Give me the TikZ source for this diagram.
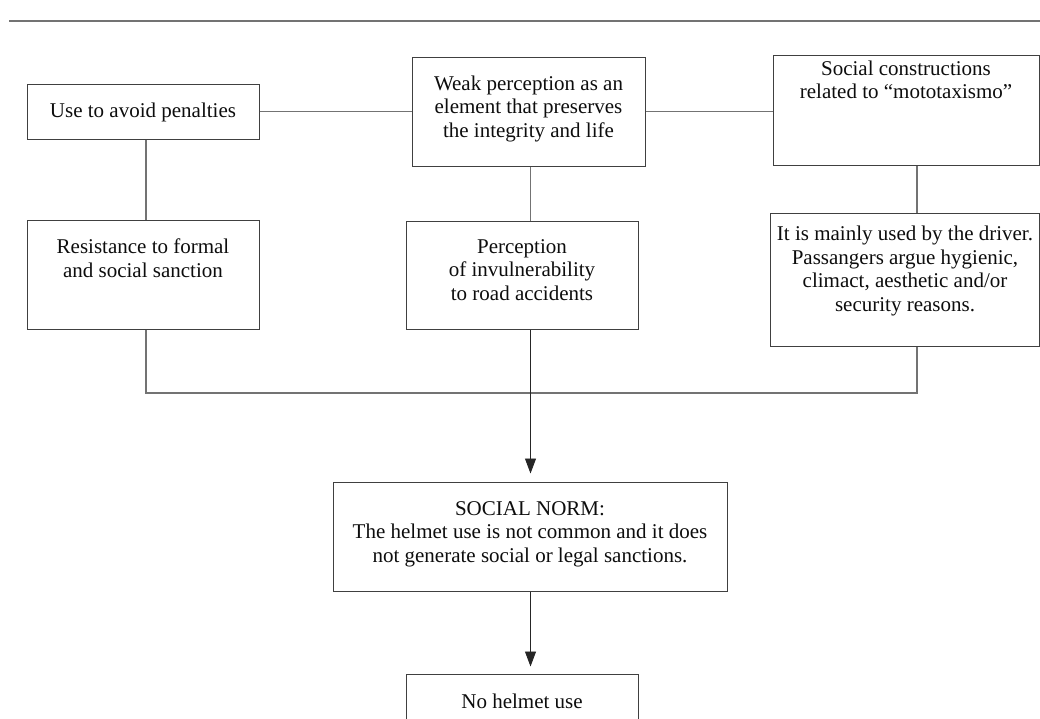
\documentclass[tikz,border=0pt]{standalone}
\usepackage{fontspec}
\setmainfont{Liberation Serif}
\usetikzlibrary{arrows.meta}
\begin{document}
\begin{tikzpicture}[x=1pt,y=1pt,
  box/.style={draw=black!75, line width=1pt, rectangle, inner sep=0pt},
  txt/.style={anchor=north, align=center, inner sep=0pt, font=\fontsize{21}{23.5}\selectfont, text=black!95},
  conn/.style={draw=black!55, line width=1.1pt},
  arr/.style={draw=black!85, line width=0.9pt, -{Triangle[length=15pt,width=11pt]}},
  rule/.style={draw=black!55, line width=2pt}]
\useasboundingbox (0,0) rectangle (1040,-718);
\clip (0,0) rectangle (1040,-718);
% top rule
\coordinate (r1) at (9,-21);
\coordinate (r2) at (1040,-21);
\draw[rule] (r1) -- (r2);
% boxes
\node[box, minimum width=232, minimum height=55]  (b1) at (143,-111.5) {};
\node[box, minimum width=232, minimum height=109] (b2) at (143,-274.5) {};
\node[box, minimum width=233, minimum height=109] (b3) at (528.5,-111.5) {};
\node[box, minimum width=232, minimum height=108] (b4) at (522,-275) {};
\node[box, minimum width=266, minimum height=110] (b5) at (906,-110) {};
\node[box, minimum width=269, minimum height=133] (b6) at (904.5,-279.5) {};
\node[box, minimum width=394, minimum height=109] (b7) at (530,-536.5) {};
\node[box, minimum width=232, minimum height=86]  (b8) at (522,-717) {};
% texts
\node[txt] (t1) at (143,-101) {\strut Use to avoid penalties};
\node[txt] (t2) at (143,-237) {\strut Resistance to formal\\and social sanction};
\node[txt] (t3) at (528.5,-73.5) {\strut Weak perception as an\\element that preserves\\the integrity and life};
\node[txt] (t4) at (522,-236.5) {\strut Perception\\of invulnerability\\to road accidents};
\node[txt] (t5) at (906,-58.5) {\strut Social constructions\\related to “mototaxismo”};
\node[txt] (t6) at (905,-224.2) {\strut It is mainly used by the driver.\\Passangers argue hygienic,\\climact, aesthetic and/or\\security reasons.};
\node[txt] (t7) at (530,-498.5) {\strut SOCIAL NORM:\\The helmet use is not common and it does\\not generate social or legal sanctions.};
\node[txt] (t8) at (522,-691.8) {\strut No helmet use};
% guide coordinates
\coordinate (lx) at (146,0);
\coordinate (cx) at (530.5,0);
\coordinate (rx) at (917,0);
\coordinate (busy) at (0,-393);
% connectors
\draw[conn] (b1.east) -- (b3.west);
\draw[conn] (b3.east) -- (b3.east -| b5.west);
\draw[conn] (b1.south -| lx) -- (b2.north -| lx);
\draw[conn] (b3.south -| cx) -- (b4.north -| cx);
\draw[conn] (b5.south -| rx) -- (b6.north -| rx);
\draw[conn] (b2.south -| lx) -- (lx |- busy) -- (rx |- busy) -- (b6.south -| rx);
\draw[arr, shorten >=8pt] (b4.south -| cx) -- (b7.north -| cx);
\draw[arr, shorten >=7pt] (b7.south -| cx) -- (b8.north -| cx);
\end{tikzpicture}
\end{document}
